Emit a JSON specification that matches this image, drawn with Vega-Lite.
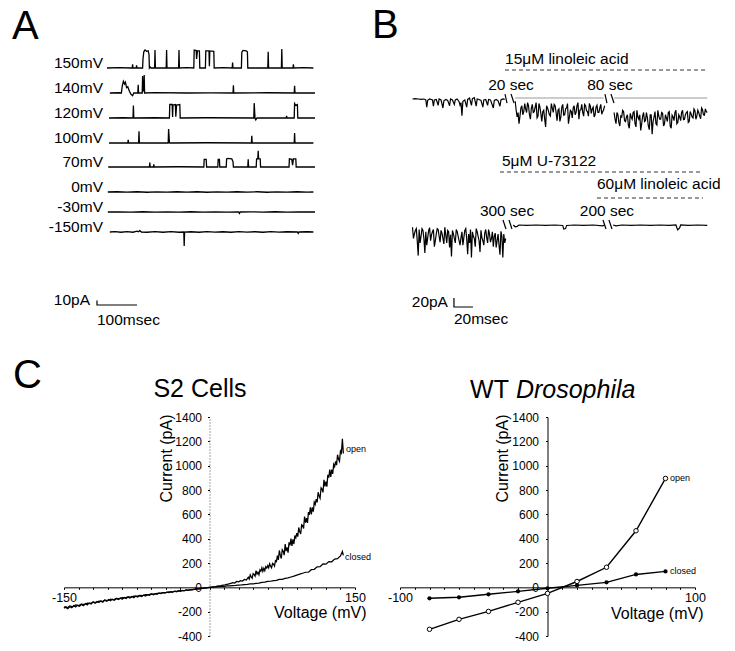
{
"$schema": "https://vega.github.io/schema/vega-lite/v6.json",
"padding": {"left": 12, "top": 5, "right": 5, "bottom": 5},
"background": "white",
"config": {"view": {"stroke": null}, "font": "Liberation Sans", "axis": {"domainColor": "#000", "tickColor": "#000", "labelColor": "#000", "titleColor": "#000", "grid": false, "labelFont": "Liberation Sans", "titleFont": "Liberation Sans"}},
"datasets": {
"aTr": [
{"row":0,"t":0,"i":0},{"row":0,"t":30,"i":0.8},{"row":0,"t":60,"i":0},{"row":0,"t":63,"i":0},{"row":0,"t":64,"i":8},{"row":0,"t":65,"i":0},{"row":0,"t":73,"i":0},{"row":0,"t":74,"i":6},{"row":0,"t":75,"i":0},{"row":0,"t":89,"i":0},{"row":0,"t":90,"i":20},{"row":0,"t":92,"i":36},{"row":0,"t":95,"i":40},{"row":0,"t":99,"i":37},{"row":0,"t":103,"i":38},{"row":0,"t":105,"i":30},{"row":0,"t":106,"i":0},{"row":0,"t":108,"i":2},{"row":0,"t":110,"i":0},{"row":0,"t":119,"i":0},{"row":0,"t":120,"i":40},{"row":0,"t":121,"i":0},{"row":0,"t":148,"i":0},{"row":0,"t":149,"i":40},{"row":0,"t":150,"i":0},{"row":0,"t":179,"i":0},{"row":0,"t":180,"i":40},{"row":0,"t":181,"i":0},{"row":0,"t":200,"i":1},{"row":0,"t":217,"i":0},{"row":0,"t":218,"i":40},{"row":0,"t":223,"i":39},{"row":0,"t":224,"i":20},{"row":0,"t":226,"i":38},{"row":0,"t":231,"i":38},{"row":0,"t":232,"i":0},{"row":0,"t":246,"i":0},{"row":0,"t":247,"i":38},{"row":0,"t":255,"i":38},{"row":0,"t":256,"i":4},{"row":0,"t":257,"i":38},{"row":0,"t":267,"i":37},{"row":0,"t":268,"i":0},{"row":0,"t":290,"i":1},{"row":0,"t":313,"i":0},{"row":0,"t":314,"i":12},{"row":0,"t":315,"i":0},{"row":0,"t":336,"i":0},{"row":0,"t":337,"i":35},{"row":0,"t":340,"i":39},{"row":0,"t":348,"i":38},{"row":0,"t":351,"i":36},{"row":0,"t":352,"i":0},{"row":0,"t":402,"i":0},{"row":0,"t":403,"i":36},{"row":0,"t":404,"i":0},{"row":0,"t":436,"i":0},{"row":0,"t":437,"i":42},{"row":0,"t":438,"i":0},{"row":0,"t":465,"i":0},{"row":0,"t":466,"i":8},{"row":0,"t":467,"i":0},{"row":0,"t":490,"i":0.8},{"row":0,"t":516,"i":0},
{"row":1,"t":7,"i":0},{"row":1,"t":30,"i":0.5},{"row":1,"t":36,"i":0},{"row":1,"t":38,"i":15},{"row":1,"t":41,"i":26},{"row":1,"t":44,"i":20},{"row":1,"t":46,"i":24},{"row":1,"t":49,"i":12},{"row":1,"t":52,"i":14},{"row":1,"t":56,"i":4},{"row":1,"t":60,"i":-3},{"row":1,"t":64,"i":-6},{"row":1,"t":67,"i":0},{"row":1,"t":77,"i":0},{"row":1,"t":78,"i":18},{"row":1,"t":79,"i":0},{"row":1,"t":88,"i":0},{"row":1,"t":89,"i":38},{"row":1,"t":90,"i":4},{"row":1,"t":92,"i":6},{"row":1,"t":93,"i":40},{"row":1,"t":94,"i":0},{"row":1,"t":120,"i":0.8},{"row":1,"t":200,"i":0},{"row":1,"t":260,"i":0.5},{"row":1,"t":315,"i":0},{"row":1,"t":316,"i":17},{"row":1,"t":317,"i":0},{"row":1,"t":400,"i":0.6},{"row":1,"t":468,"i":0},{"row":1,"t":469,"i":16},{"row":1,"t":470,"i":0},{"row":1,"t":520,"i":0},
{"row":2,"t":5,"i":0},{"row":2,"t":40,"i":0.5},{"row":2,"t":65,"i":0},{"row":2,"t":66,"i":28},{"row":2,"t":67,"i":0},{"row":2,"t":120,"i":0.6},{"row":2,"t":156,"i":0},{"row":2,"t":157,"i":30},{"row":2,"t":163,"i":30},{"row":2,"t":164,"i":2},{"row":2,"t":165,"i":29},{"row":2,"t":171,"i":30},{"row":2,"t":172,"i":3},{"row":2,"t":174,"i":29},{"row":2,"t":182,"i":30},{"row":2,"t":183,"i":0},{"row":2,"t":250,"i":0.6},{"row":2,"t":367,"i":0},{"row":2,"t":368,"i":33},{"row":2,"t":370,"i":0},{"row":2,"t":372,"i":-4},{"row":2,"t":375,"i":0},{"row":2,"t":448,"i":0},{"row":2,"t":449,"i":5},{"row":2,"t":450,"i":0},{"row":2,"t":468,"i":0},{"row":2,"t":469,"i":32},{"row":2,"t":472,"i":28},{"row":2,"t":476,"i":30},{"row":2,"t":477,"i":0},{"row":2,"t":520,"i":0},
{"row":3,"t":5,"i":0},{"row":3,"t":52,"i":0},{"row":3,"t":53,"i":7},{"row":3,"t":54,"i":0},{"row":3,"t":79,"i":0},{"row":3,"t":80,"i":26},{"row":3,"t":81,"i":0},{"row":3,"t":153,"i":0},{"row":3,"t":154,"i":31},{"row":3,"t":156,"i":2},{"row":3,"t":157,"i":0},{"row":3,"t":250,"i":0.6},{"row":3,"t":361,"i":0},{"row":3,"t":362,"i":16},{"row":3,"t":363,"i":0},{"row":3,"t":468,"i":0},{"row":3,"t":469,"i":22},{"row":3,"t":470,"i":0},{"row":3,"t":516,"i":0},
{"row":4,"t":3,"i":0},{"row":4,"t":106,"i":0},{"row":4,"t":107,"i":10},{"row":4,"t":108,"i":0},{"row":4,"t":116,"i":0},{"row":4,"t":117,"i":6},{"row":4,"t":118,"i":0},{"row":4,"t":180,"i":0.6},{"row":4,"t":242,"i":0},{"row":4,"t":243,"i":17},{"row":4,"t":248,"i":17},{"row":4,"t":249,"i":0},{"row":4,"t":277,"i":0},{"row":4,"t":278,"i":17},{"row":4,"t":281,"i":17},{"row":4,"t":282,"i":0},{"row":4,"t":298,"i":0},{"row":4,"t":299,"i":18},{"row":4,"t":302,"i":19},{"row":4,"t":312,"i":18},{"row":4,"t":315,"i":12},{"row":4,"t":316,"i":0},{"row":4,"t":352,"i":0},{"row":4,"t":353,"i":17},{"row":4,"t":354,"i":0},{"row":4,"t":373,"i":0},{"row":4,"t":374,"i":18},{"row":4,"t":377,"i":18},{"row":4,"t":378,"i":36},{"row":4,"t":379,"i":18},{"row":4,"t":383,"i":18},{"row":4,"t":384,"i":0},{"row":4,"t":455,"i":0},{"row":4,"t":456,"i":18},{"row":4,"t":462,"i":17},{"row":4,"t":464,"i":4},{"row":4,"t":466,"i":18},{"row":4,"t":472,"i":18},{"row":4,"t":473,"i":0},{"row":4,"t":520,"i":0},
{"row":5,"t":2,"i":0},{"row":5,"t":25,"i":0.6},{"row":5,"t":50,"i":-0.4},{"row":5,"t":75,"i":0.5},{"row":5,"t":100,"i":-0.5},{"row":5,"t":125,"i":0.4},{"row":5,"t":150,"i":-0.3},{"row":5,"t":175,"i":0.6},{"row":5,"t":200,"i":-0.4},{"row":5,"t":225,"i":0.5},{"row":5,"t":250,"i":-0.5},{"row":5,"t":275,"i":0.4},{"row":5,"t":300,"i":-0.4},{"row":5,"t":325,"i":0.6},{"row":5,"t":350,"i":-0.3},{"row":5,"t":375,"i":0.5},{"row":5,"t":400,"i":-0.5},{"row":5,"t":425,"i":0.4},{"row":5,"t":450,"i":-0.4},{"row":5,"t":475,"i":0.6},{"row":5,"t":500,"i":-0.3},{"row":5,"t":516,"i":0},
{"row":6,"t":2,"i":0},{"row":6,"t":30,"i":0.4},{"row":6,"t":60,"i":-0.4},{"row":6,"t":90,"i":0.5},{"row":6,"t":120,"i":-0.3},{"row":6,"t":150,"i":0.4},{"row":6,"t":180,"i":-0.4},{"row":6,"t":210,"i":0.5},{"row":6,"t":240,"i":-0.3},{"row":6,"t":270,"i":0.4},{"row":6,"t":300,"i":-0.4},{"row":6,"t":329,"i":0},{"row":6,"t":331,"i":-3},{"row":6,"t":333,"i":0},{"row":6,"t":360,"i":0.4},{"row":6,"t":390,"i":-0.3},{"row":6,"t":420,"i":0.5},{"row":6,"t":450,"i":-0.4},{"row":6,"t":480,"i":0.4},{"row":6,"t":520,"i":0},
{"row":7,"t":7,"i":0},{"row":7,"t":20,"i":0.8},{"row":7,"t":35,"i":-0.5},{"row":7,"t":50,"i":1},{"row":7,"t":65,"i":-0.5},{"row":7,"t":75,"i":2},{"row":7,"t":78,"i":0.5},{"row":7,"t":82,"i":3},{"row":7,"t":86,"i":0},{"row":7,"t":100,"i":-0.6},{"row":7,"t":120,"i":0.8},{"row":7,"t":140,"i":-0.5},{"row":7,"t":160,"i":0.7},{"row":7,"t":180,"i":-0.6},{"row":7,"t":192,"i":0},{"row":7,"t":193,"i":-31},{"row":7,"t":194,"i":0},{"row":7,"t":210,"i":0.6},{"row":7,"t":230,"i":-0.5},{"row":7,"t":250,"i":0.8},{"row":7,"t":270,"i":-0.4},{"row":7,"t":290,"i":0.6},{"row":7,"t":310,"i":-0.5},{"row":7,"t":330,"i":0.7},{"row":7,"t":350,"i":-0.4},{"row":7,"t":370,"i":0.6},{"row":7,"t":390,"i":-0.5},{"row":7,"t":410,"i":0.7},{"row":7,"t":430,"i":-0.4},{"row":7,"t":450,"i":0.5},{"row":7,"t":476,"i":0},{"row":7,"t":478,"i":-3},{"row":7,"t":480,"i":0},{"row":7,"t":500,"i":0.5},{"row":7,"t":516,"i":0}
],
"aLab": [
{"row":0,"t":-10,"i":0,"label":"150mV"},{"row":1,"t":-10,"i":0,"label":"140mV"},{"row":2,"t":-10,"i":0,"label":"120mV"},{"row":3,"t":-10,"i":0,"label":"100mV"},{"row":4,"t":-10,"i":0,"label":"70mV"},{"row":5,"t":-10,"i":0,"label":"0mV"},{"row":6,"t":-10,"i":0,"label":"-30mV"},{"row":7,"t":-10,"i":0,"label":"-150mV"},{"row":8,"t":-42.5,"i":0,"label":"10pA"}
],
"aBar": [{"row":8,"t":-25,"i":10,"k":0},{"row":8,"t":-25,"i":0,"k":1},{"row":8,"t":75,"i":0,"k":2}],
"bTr": [
{"seg":"r0a","row":0,"t":0,"i":0},{"seg":"r0a","row":0,"t":3,"i":1},{"seg":"r0a","row":0,"t":6,"i":0},{"seg":"r0a","row":0,"t":9,"i":-1},{"seg":"r0a","row":0,"t":12,"i":0},{"seg":"r0a","row":0,"t":14,"i":-2},{"seg":"r0a","row":0,"t":15,"i":-18},{"seg":"r0a","row":0,"t":16,"i":-3},{"seg":"r0a","row":0,"t":18,"i":0},{"seg":"r0a","row":0,"t":21,"i":-2},{"seg":"r0a","row":0,"t":22,"i":-16},{"seg":"r0a","row":0,"t":23,"i":-2},{"seg":"r0a","row":0,"t":25,"i":-1},{"seg":"r0a","row":0,"t":27,"i":-14},{"seg":"r0a","row":0,"t":28,"i":0},{"seg":"r0a","row":0,"t":30,"i":-2},{"seg":"r0a","row":0,"t":32,"i":-20},{"seg":"r0a","row":0,"t":33,"i":-4},{"seg":"r0a","row":0,"t":35,"i":-1},{"seg":"r0a","row":0,"t":37,"i":-3},{"seg":"r0a","row":0,"t":39,"i":-15},{"seg":"r0a","row":0,"t":40,"i":0},{"seg":"r0a","row":0,"t":42,"i":-2},{"seg":"r0a","row":0,"t":44,"i":-12},{"seg":"r0a","row":0,"t":45,"i":-2},{"seg":"r0a","row":0,"t":47,"i":0},{"seg":"r0a","row":0,"t":49,"i":-6},{"seg":"r0a","row":0,"t":50,"i":-14},{"seg":"r0a","row":0,"t":51,"i":-8},{"seg":"r0a","row":0,"t":52,"i":-37},{"seg":"r0a","row":0,"t":53,"i":-5},{"seg":"r0a","row":0,"t":55,"i":-2},{"seg":"r0a","row":0,"t":57,"i":-18},{"seg":"r0a","row":0,"t":58,"i":-1},{"seg":"r0a","row":0,"t":60,"i":2},{"seg":"r0a","row":0,"t":62,"i":-14},{"seg":"r0a","row":0,"t":63,"i":1},{"seg":"r0a","row":0,"t":65,"i":3},{"seg":"r0a","row":0,"t":67,"i":-16},{"seg":"r0a","row":0,"t":68,"i":0},{"seg":"r0a","row":0,"t":70,"i":-1},{"seg":"r0a","row":0,"t":72,"i":-3},{"seg":"r0a","row":0,"t":74,"i":-18},{"seg":"r0a","row":0,"t":75,"i":-2},{"seg":"r0a","row":0,"t":77,"i":-1},{"seg":"r0a","row":0,"t":79,"i":-14},{"seg":"r0a","row":0,"t":80,"i":-1},{"seg":"r0a","row":0,"t":82,"i":-2},{"seg":"r0a","row":0,"t":85,"i":-20},{"seg":"r0a","row":0,"t":86,"i":-3},{"seg":"r0a","row":0,"t":88,"i":-1},{"seg":"r0a","row":0,"t":90,"i":-4},{"seg":"r0a","row":0,"t":92,"i":-16},{"seg":"r0a","row":0,"t":93,"i":-2},{"seg":"r0a","row":0,"t":95,"i":0},{"seg":"r0a","row":0,"t":97,"i":-1},
{"seg":"r0b","row":0,"t":108,"i":-5},{"seg":"r0b","row":0,"t":110,"i":-40},{"seg":"r0b","row":0,"t":112,"i":-55},{"seg":"r0b","row":0,"t":114,"i":-20},{"seg":"r0b","row":0,"t":116,"i":-35},{"seg":"r0b","row":0,"t":118,"i":-10},{"seg":"r0b","row":0,"t":120,"i":-30},{"seg":"r0b","row":0,"t":122,"i":-15},{"seg":"r0b","row":0,"t":124,"i":-45},{"seg":"r0b","row":0,"t":126,"i":-12},{"seg":"r0b","row":0,"t":128,"i":-28},{"seg":"r0b","row":0,"t":130,"i":-8},{"seg":"r0b","row":0,"t":132,"i":-38},{"seg":"r0b","row":0,"t":134,"i":-18},{"seg":"r0b","row":0,"t":136,"i":-50},{"seg":"r0b","row":0,"t":138,"i":-25},{"seg":"r0b","row":0,"t":140,"i":-62},{"seg":"r0b","row":0,"t":142,"i":-20},{"seg":"r0b","row":0,"t":144,"i":-35},{"seg":"r0b","row":0,"t":146,"i":-10},{"seg":"r0b","row":0,"t":148,"i":-30},{"seg":"r0b","row":0,"t":150,"i":-15},{"seg":"r0b","row":0,"t":152,"i":-48},{"seg":"r0b","row":0,"t":154,"i":-22},{"seg":"r0b","row":0,"t":156,"i":-40},{"seg":"r0b","row":0,"t":158,"i":-12},{"seg":"r0b","row":0,"t":160,"i":-35},{"seg":"r0b","row":0,"t":162,"i":-20},{"seg":"r0b","row":0,"t":164,"i":-55},{"seg":"r0b","row":0,"t":166,"i":-25},{"seg":"r0b","row":0,"t":168,"i":-42},{"seg":"r0b","row":0,"t":170,"i":-15},{"seg":"r0b","row":0,"t":172,"i":-30},{"seg":"r0b","row":0,"t":174,"i":-8},{"seg":"r0b","row":0,"t":176,"i":-25},{"seg":"r0b","row":0,"t":178,"i":-12},{"seg":"r0b","row":0,"t":180,"i":-38},{"seg":"r0b","row":0,"t":182,"i":-15},{"seg":"r0b","row":0,"t":184,"i":-28},{"seg":"r0b","row":0,"t":186,"i":-10},{"seg":"r0b","row":0,"t":188,"i":-32},{"seg":"r0b","row":0,"t":190,"i":-18},{"seg":"r0b","row":0,"t":192,"i":-35},{"seg":"r0b","row":0,"t":194,"i":-14},{"seg":"r0b","row":0,"t":196,"i":-30},{"seg":"r0b","row":0,"t":198,"i":-12},{"seg":"r0b","row":0,"t":200,"i":-28},{"seg":"r0b","row":0,"t":202,"i":-15},
{"seg":"r0b","row":0,"t":109,"i":-25},{"seg":"r0b","row":0,"t":111,"i":-30},{"seg":"r0b","row":0,"t":113,"i":-38},{"seg":"r0b","row":0,"t":115,"i":-15},{"seg":"r0b","row":0,"t":117,"i":-28},{"seg":"r0b","row":0,"t":119,"i":-22},{"seg":"r0b","row":0,"t":121,"i":-8},{"seg":"r0b","row":0,"t":123,"i":-35},{"seg":"r0b","row":0,"t":125,"i":-20},{"seg":"r0b","row":0,"t":127,"i":-30},{"seg":"r0b","row":0,"t":129,"i":-18},{"seg":"r0b","row":0,"t":131,"i":-42},{"seg":"r0b","row":0,"t":133,"i":-10},{"seg":"r0b","row":0,"t":135,"i":-33},{"seg":"r0b","row":0,"t":137,"i":-28},{"seg":"r0b","row":0,"t":139,"i":-45},{"seg":"r0b","row":0,"t":141,"i":-15},{"seg":"r0b","row":0,"t":143,"i":-27},{"seg":"r0b","row":0,"t":145,"i":-38},{"seg":"r0b","row":0,"t":147,"i":-20},{"seg":"r0b","row":0,"t":149,"i":-12},{"seg":"r0b","row":0,"t":151,"i":-30},{"seg":"r0b","row":0,"t":153,"i":-25},{"seg":"r0b","row":0,"t":155,"i":-50},{"seg":"r0b","row":0,"t":157,"i":-18},{"seg":"r0b","row":0,"t":159,"i":-36},{"seg":"r0b","row":0,"t":161,"i":-22},{"seg":"r0b","row":0,"t":163,"i":-10},{"seg":"r0b","row":0,"t":165,"i":-40},{"seg":"r0b","row":0,"t":167,"i":-28},{"seg":"r0b","row":0,"t":169,"i":-20},{"seg":"r0b","row":0,"t":171,"i":-35},{"seg":"r0b","row":0,"t":173,"i":-15},{"seg":"r0b","row":0,"t":175,"i":-45},{"seg":"r0b","row":0,"t":177,"i":-24},{"seg":"r0b","row":0,"t":179,"i":-30},{"seg":"r0b","row":0,"t":181,"i":-12},{"seg":"r0b","row":0,"t":183,"i":-26},{"seg":"r0b","row":0,"t":185,"i":-38},{"seg":"r0b","row":0,"t":187,"i":-16},{"seg":"r0b","row":0,"t":189,"i":-22},{"seg":"r0b","row":0,"t":191,"i":-40},{"seg":"r0b","row":0,"t":193,"i":-18},{"seg":"r0b","row":0,"t":195,"i":-30},{"seg":"r0b","row":0,"t":197,"i":-20},{"seg":"r0b","row":0,"t":199,"i":-34},{"seg":"r0b","row":0,"t":201,"i":-24},
{"seg":"r0c","row":0,"t":212,"i":-30},{"seg":"r0c","row":0,"t":214,"i":-55},{"seg":"r0c","row":0,"t":216,"i":-35},{"seg":"r0c","row":0,"t":218,"i":-60},{"seg":"r0c","row":0,"t":220,"i":-40},{"seg":"r0c","row":0,"t":222,"i":-28},{"seg":"r0c","row":0,"t":224,"i":-50},{"seg":"r0c","row":0,"t":226,"i":-35},{"seg":"r0c","row":0,"t":228,"i":-65},{"seg":"r0c","row":0,"t":230,"i":-40},{"seg":"r0c","row":0,"t":232,"i":-30},{"seg":"r0c","row":0,"t":234,"i":-55},{"seg":"r0c","row":0,"t":236,"i":-25},{"seg":"r0c","row":0,"t":238,"i":-45},{"seg":"r0c","row":0,"t":240,"i":-70},{"seg":"r0c","row":0,"t":242,"i":-38},{"seg":"r0c","row":0,"t":244,"i":-50},{"seg":"r0c","row":0,"t":246,"i":-30},{"seg":"r0c","row":0,"t":248,"i":-60},{"seg":"r0c","row":0,"t":250,"i":-35},{"seg":"r0c","row":0,"t":252,"i":-78},{"seg":"r0c","row":0,"t":254,"i":-40},{"seg":"r0c","row":0,"t":256,"i":-55},{"seg":"r0c","row":0,"t":258,"i":-25},{"seg":"r0c","row":0,"t":260,"i":-45},{"seg":"r0c","row":0,"t":262,"i":-30},{"seg":"r0c","row":0,"t":264,"i":-60},{"seg":"r0c","row":0,"t":266,"i":-35},{"seg":"r0c","row":0,"t":268,"i":-50},{"seg":"r0c","row":0,"t":270,"i":-28},{"seg":"r0c","row":0,"t":272,"i":-65},{"seg":"r0c","row":0,"t":274,"i":-40},{"seg":"r0c","row":0,"t":276,"i":-30},{"seg":"r0c","row":0,"t":278,"i":-55},{"seg":"r0c","row":0,"t":280,"i":-35},{"seg":"r0c","row":0,"t":282,"i":-48},{"seg":"r0c","row":0,"t":284,"i":-25},{"seg":"r0c","row":0,"t":286,"i":-45},{"seg":"r0c","row":0,"t":288,"i":-30},{"seg":"r0c","row":0,"t":290,"i":-52},{"seg":"r0c","row":0,"t":292,"i":-28},{"seg":"r0c","row":0,"t":294,"i":-40},{"seg":"r0c","row":0,"t":296,"i":-22},{"seg":"r0c","row":0,"t":298,"i":-45},{"seg":"r0c","row":0,"t":300,"i":-25},{"seg":"r0c","row":0,"t":302,"i":-38},{"seg":"r0c","row":0,"t":304,"i":-20},{"seg":"r0c","row":0,"t":306,"i":-35},{"seg":"r0c","row":0,"t":308,"i":-22},{"seg":"r0c","row":0,"t":310,"i":-30},
{"seg":"r0c","row":0,"t":213,"i":-45},{"seg":"r0c","row":0,"t":215,"i":-30},{"seg":"r0c","row":0,"t":217,"i":-52},{"seg":"r0c","row":0,"t":219,"i":-38},{"seg":"r0c","row":0,"t":221,"i":-25},{"seg":"r0c","row":0,"t":223,"i":-48},{"seg":"r0c","row":0,"t":225,"i":-40},{"seg":"r0c","row":0,"t":227,"i":-58},{"seg":"r0c","row":0,"t":229,"i":-32},{"seg":"r0c","row":0,"t":231,"i":-45},{"seg":"r0c","row":0,"t":233,"i":-28},{"seg":"r0c","row":0,"t":235,"i":-62},{"seg":"r0c","row":0,"t":237,"i":-40},{"seg":"r0c","row":0,"t":239,"i":-35},{"seg":"r0c","row":0,"t":241,"i":-55},{"seg":"r0c","row":0,"t":243,"i":-30},{"seg":"r0c","row":0,"t":245,"i":-48},{"seg":"r0c","row":0,"t":247,"i":-42},{"seg":"r0c","row":0,"t":249,"i":-68},{"seg":"r0c","row":0,"t":251,"i":-35},{"seg":"r0c","row":0,"t":253,"i":-50},{"seg":"r0c","row":0,"t":255,"i":-28},{"seg":"r0c","row":0,"t":257,"i":-58},{"seg":"r0c","row":0,"t":259,"i":-38},{"seg":"r0c","row":0,"t":261,"i":-45},{"seg":"r0c","row":0,"t":263,"i":-32},{"seg":"r0c","row":0,"t":265,"i":-55},{"seg":"r0c","row":0,"t":267,"i":-42},{"seg":"r0c","row":0,"t":269,"i":-30},{"seg":"r0c","row":0,"t":271,"i":-60},{"seg":"r0c","row":0,"t":273,"i":-36},{"seg":"r0c","row":0,"t":275,"i":-48},{"seg":"r0c","row":0,"t":277,"i":-25},{"seg":"r0c","row":0,"t":279,"i":-52},{"seg":"r0c","row":0,"t":281,"i":-40},{"seg":"r0c","row":0,"t":283,"i":-30},{"seg":"r0c","row":0,"t":285,"i":-46},{"seg":"r0c","row":0,"t":287,"i":-35},{"seg":"r0c","row":0,"t":289,"i":-28},{"seg":"r0c","row":0,"t":291,"i":-50},{"seg":"r0c","row":0,"t":293,"i":-33},{"seg":"r0c","row":0,"t":295,"i":-42},{"seg":"r0c","row":0,"t":297,"i":-26},{"seg":"r0c","row":0,"t":299,"i":-38},{"seg":"r0c","row":0,"t":301,"i":-30},{"seg":"r0c","row":0,"t":303,"i":-44},{"seg":"r0c","row":0,"t":305,"i":-24},{"seg":"r0c","row":0,"t":307,"i":-36},{"seg":"r0c","row":0,"t":309,"i":-28},
{"seg":"r1a","row":1,"t":0,"i":-5},{"seg":"r1a","row":1,"t":2,"i":-20},{"seg":"r1a","row":1,"t":4,"i":-8},{"seg":"r1a","row":1,"t":6,"i":-68},{"seg":"r1a","row":1,"t":7,"i":-10},{"seg":"r1a","row":1,"t":9,"i":-25},{"seg":"r1a","row":1,"t":11,"i":-12},{"seg":"r1a","row":1,"t":13,"i":-62},{"seg":"r1a","row":1,"t":14,"i":-15},{"seg":"r1a","row":1,"t":16,"i":-28},{"seg":"r1a","row":1,"t":18,"i":-6},{"seg":"r1a","row":1,"t":20,"i":-22},{"seg":"r1a","row":1,"t":22,"i":-10},{"seg":"r1a","row":1,"t":24,"i":-35},{"seg":"r1a","row":1,"t":26,"i":-8},{"seg":"r1a","row":1,"t":28,"i":-25},{"seg":"r1a","row":1,"t":30,"i":-12},{"seg":"r1a","row":1,"t":32,"i":-30},{"seg":"r1a","row":1,"t":34,"i":-5},{"seg":"r1a","row":1,"t":36,"i":-40},{"seg":"r1a","row":1,"t":38,"i":-15},{"seg":"r1a","row":1,"t":40,"i":-22},{"seg":"r1a","row":1,"t":41,"i":-70},{"seg":"r1a","row":1,"t":42,"i":-12},{"seg":"r1a","row":1,"t":44,"i":-30},{"seg":"r1a","row":1,"t":46,"i":-10},{"seg":"r1a","row":1,"t":48,"i":-25},{"seg":"r1a","row":1,"t":50,"i":-45},{"seg":"r1a","row":1,"t":52,"i":-15},{"seg":"r1a","row":1,"t":54,"i":-28},{"seg":"r1a","row":1,"t":56,"i":-8},{"seg":"r1a","row":1,"t":58,"i":-65},{"seg":"r1a","row":1,"t":59,"i":-20},{"seg":"r1a","row":1,"t":61,"i":-10},{"seg":"r1a","row":1,"t":62,"i":-72},{"seg":"r1a","row":1,"t":63,"i":-15},{"seg":"r1a","row":1,"t":65,"i":-30},{"seg":"r1a","row":1,"t":67,"i":-8},{"seg":"r1a","row":1,"t":69,"i":-25},{"seg":"r1a","row":1,"t":71,"i":-60},{"seg":"r1a","row":1,"t":72,"i":-12},{"seg":"r1a","row":1,"t":74,"i":-35},{"seg":"r1a","row":1,"t":76,"i":-18},{"seg":"r1a","row":1,"t":78,"i":-28},{"seg":"r1a","row":1,"t":80,"i":-10},{"seg":"r1a","row":1,"t":82,"i":-38},{"seg":"r1a","row":1,"t":84,"i":-15},{"seg":"r1a","row":1,"t":86,"i":-25},{"seg":"r1a","row":1,"t":88,"i":-50},{"seg":"r1a","row":1,"t":90,"i":-20},{"seg":"r1a","row":1,"t":92,"i":-66},{"seg":"r1a","row":1,"t":93,"i":-14},{"seg":"r1a","row":1,"t":95,"i":-72},{"seg":"r1a","row":1,"t":96,"i":-20},{"seg":"r1a","row":1,"t":98,"i":-30},
{"seg":"r1a","row":1,"t":1,"i":-30},{"seg":"r1a","row":1,"t":3,"i":-12},{"seg":"r1a","row":1,"t":5,"i":-35},{"seg":"r1a","row":1,"t":8,"i":-40},{"seg":"r1a","row":1,"t":10,"i":-8},{"seg":"r1a","row":1,"t":12,"i":-30},{"seg":"r1a","row":1,"t":15,"i":-45},{"seg":"r1a","row":1,"t":17,"i":-12},{"seg":"r1a","row":1,"t":19,"i":-35},{"seg":"r1a","row":1,"t":21,"i":-15},{"seg":"r1a","row":1,"t":23,"i":-48},{"seg":"r1a","row":1,"t":25,"i":-20},{"seg":"r1a","row":1,"t":27,"i":-10},{"seg":"r1a","row":1,"t":29,"i":-38},{"seg":"r1a","row":1,"t":31,"i":-18},{"seg":"r1a","row":1,"t":33,"i":-42},{"seg":"r1a","row":1,"t":35,"i":-22},{"seg":"r1a","row":1,"t":37,"i":-12},{"seg":"r1a","row":1,"t":39,"i":-50},{"seg":"r1a","row":1,"t":43,"i":-20},{"seg":"r1a","row":1,"t":45,"i":-40},{"seg":"r1a","row":1,"t":47,"i":-15},{"seg":"r1a","row":1,"t":49,"i":-35},{"seg":"r1a","row":1,"t":51,"i":-28},{"seg":"r1a","row":1,"t":53,"i":-45},{"seg":"r1a","row":1,"t":55,"i":-12},{"seg":"r1a","row":1,"t":57,"i":-30},{"seg":"r1a","row":1,"t":60,"i":-40},{"seg":"r1a","row":1,"t":64,"i":-25},{"seg":"r1a","row":1,"t":66,"i":-48},{"seg":"r1a","row":1,"t":68,"i":-15},{"seg":"r1a","row":1,"t":70,"i":-35},{"seg":"r1a","row":1,"t":73,"i":-28},{"seg":"r1a","row":1,"t":75,"i":-45},{"seg":"r1a","row":1,"t":77,"i":-10},{"seg":"r1a","row":1,"t":79,"i":-40},{"seg":"r1a","row":1,"t":81,"i":-20},{"seg":"r1a","row":1,"t":83,"i":-30},{"seg":"r1a","row":1,"t":85,"i":-48},{"seg":"r1a","row":1,"t":87,"i":-18},{"seg":"r1a","row":1,"t":89,"i":-35},{"seg":"r1a","row":1,"t":91,"i":-45},{"seg":"r1a","row":1,"t":94,"i":-25},{"seg":"r1a","row":1,"t":97,"i":-40},
{"seg":"r1b","row":1,"t":106,"i":0},{"seg":"r1b","row":1,"t":108,"i":-4},{"seg":"r1b","row":1,"t":110,"i":-3},{"seg":"r1b","row":1,"t":112,"i":0},{"seg":"r1b","row":1,"t":120,"i":-1},{"seg":"r1b","row":1,"t":130,"i":0},{"seg":"r1b","row":1,"t":140,"i":-1},{"seg":"r1b","row":1,"t":150,"i":0},{"seg":"r1b","row":1,"t":158,"i":-1},{"seg":"r1b","row":1,"t":159,"i":-9},{"seg":"r1b","row":1,"t":161,"i":-8},{"seg":"r1b","row":1,"t":162,"i":-1},{"seg":"r1b","row":1,"t":170,"i":0},{"seg":"r1b","row":1,"t":180,"i":-1},{"seg":"r1b","row":1,"t":190,"i":0},{"seg":"r1b","row":1,"t":200,"i":-2},{"seg":"r1b","row":1,"t":202,"i":0},
{"seg":"r1c","row":1,"t":211,"i":0},{"seg":"r1c","row":1,"t":214,"i":-2},{"seg":"r1c","row":1,"t":220,"i":0},{"seg":"r1c","row":1,"t":230,"i":-1},{"seg":"r1c","row":1,"t":240,"i":0},{"seg":"r1c","row":1,"t":250,"i":-1},{"seg":"r1c","row":1,"t":260,"i":0},{"seg":"r1c","row":1,"t":270,"i":-1},{"seg":"r1c","row":1,"t":277,"i":0},{"seg":"r1c","row":1,"t":278,"i":-6},{"seg":"r1c","row":1,"t":279,"i":-11},{"seg":"r1c","row":1,"t":281,"i":-6},{"seg":"r1c","row":1,"t":282,"i":0},{"seg":"r1c","row":1,"t":290,"i":-1},{"seg":"r1c","row":1,"t":300,"i":0},{"seg":"r1c","row":1,"t":310,"i":-1},
{"seg":"x1","row":0,"t":97.3,"i":11},{"seg":"x1","row":0,"t":99.4,"i":-9},
{"seg":"x2","row":0,"t":103.6,"i":11},{"seg":"x2","row":0,"t":106.8,"i":-9},
{"seg":"x3","row":0,"t":202.4,"i":11},{"seg":"x3","row":0,"t":204.5,"i":-9},
{"seg":"x4","row":0,"t":208.7,"i":11},{"seg":"x4","row":0,"t":211.9,"i":-9},
{"seg":"x5","row":1,"t":95.2,"i":11},{"seg":"x5","row":1,"t":98.3,"i":-9},
{"seg":"x6","row":1,"t":101.5,"i":11},{"seg":"x6","row":1,"t":104.6,"i":-9},
{"seg":"x7","row":1,"t":200.3,"i":11},{"seg":"x7","row":1,"t":203.5,"i":-9},
{"seg":"x8","row":1,"t":206.6,"i":11},{"seg":"x8","row":1,"t":209.8,"i":-9}
],
"bBar": [{"row":2,"t":43.6,"i":20,"k":0},{"row":2,"t":43.6,"i":0,"k":1},{"row":2,"t":63.6,"i":0,"k":2}],
"bGray": [{"seg":"g1","row":0,"t":108,"i":2.2},{"seg":"g1","row":0,"t":201,"i":2.2},{"seg":"g2","row":0,"t":212,"i":2.2},{"seg":"g2","row":0,"t":310,"i":2.2}],
"bDash": [{"seg":"d1","row":0,"t":97.3,"i":64.4},{"seg":"d1","row":0,"t":309.7,"i":64.4},{"seg":"d2","row":1,"t":92,"i":117.8},{"seg":"d2","row":1,"t":304.4,"i":117.8},{"seg":"d3","row":1,"t":194,"i":60},{"seg":"d3","row":1,"t":305.5,"i":60}],
"bTxtL": [{"row":0,"t":97.3,"i":77.8,"label":"15μM linoleic acid"},{"row":1,"t":94.1,"i":131.1,"label":"5μM U-73122"},{"row":1,"t":194,"i":80,"label":"60μM linoleic acid"},{"row":2,"t":43.6,"i":-37.8,"label":"20msec"}],
"bTxtC": [{"row":0,"t":103.6,"i":20,"label":"20 sec"},{"row":0,"t":207.7,"i":20,"label":"80 sec"},{"row":1,"t":99.4,"i":20,"label":"300 sec"},{"row":1,"t":204.5,"i":20,"label":"200 sec"}],
"bTxtR": [{"row":2,"t":37.3,"i":0,"label":"20pA"}],
"s2": [
{"s":"open","V":-150,"I":-172},{"s":"open","V":-148,"I":-158},{"s":"open","V":-146,"I":-175},{"s":"open","V":-144,"I":-160},{"s":"open","V":-142,"I":-168},{"s":"open","V":-140,"I":-150},{"s":"open","V":-138,"I":-162},{"s":"open","V":-136,"I":-148},{"s":"open","V":-134,"I":-155},{"s":"open","V":-132,"I":-140},{"s":"open","V":-130,"I":-150},{"s":"open","V":-128,"I":-133},{"s":"open","V":-126,"I":-145},{"s":"open","V":-124,"I":-128},{"s":"open","V":-122,"I":-136},{"s":"open","V":-120,"I":-120},{"s":"open","V":-118,"I":-131},{"s":"open","V":-116,"I":-116},{"s":"open","V":-114,"I":-124},{"s":"open","V":-112,"I":-110},{"s":"open","V":-110,"I":-122},{"s":"open","V":-108,"I":-105},{"s":"open","V":-106,"I":-114},{"s":"open","V":-104,"I":-100},{"s":"open","V":-102,"I":-110},{"s":"open","V":-100,"I":-97},{"s":"open","V":-98,"I":-106},{"s":"open","V":-96,"I":-92},{"s":"open","V":-94,"I":-100},{"s":"open","V":-92,"I":-88},{"s":"open","V":-90,"I":-97},{"s":"open","V":-88,"I":-84},{"s":"open","V":-86,"I":-92},{"s":"open","V":-84,"I":-80},{"s":"open","V":-82,"I":-88},{"s":"open","V":-80,"I":-76},{"s":"open","V":-78,"I":-85},{"s":"open","V":-76,"I":-72},{"s":"open","V":-74,"I":-80},{"s":"open","V":-72,"I":-68},{"s":"open","V":-70,"I":-75},{"s":"open","V":-68,"I":-64},{"s":"open","V":-66,"I":-71},{"s":"open","V":-64,"I":-60},{"s":"open","V":-62,"I":-66},{"s":"open","V":-60,"I":-55},{"s":"open","V":-58,"I":-62},{"s":"open","V":-56,"I":-52},{"s":"open","V":-54,"I":-57},{"s":"open","V":-52,"I":-47},{"s":"open","V":-50,"I":-52},{"s":"open","V":-48,"I":-43},{"s":"open","V":-46,"I":-48},{"s":"open","V":-44,"I":-39},{"s":"open","V":-42,"I":-44},{"s":"open","V":-40,"I":-36},{"s":"open","V":-38,"I":-40},{"s":"open","V":-36,"I":-32},{"s":"open","V":-34,"I":-36},{"s":"open","V":-32,"I":-28},{"s":"open","V":-30,"I":-32},{"s":"open","V":-28,"I":-25},{"s":"open","V":-26,"I":-28},{"s":"open","V":-24,"I":-21},{"s":"open","V":-22,"I":-24},{"s":"open","V":-20,"I":-18},{"s":"open","V":-18,"I":-20},{"s":"open","V":-16,"I":-15},{"s":"open","V":-14,"I":-16},{"s":"open","V":-12,"I":-11},{"s":"open","V":-10,"I":-12},{"s":"open","V":-8,"I":-7},{"s":"open","V":-6,"I":-8},{"s":"open","V":-4,"I":-4},{"s":"open","V":-2,"I":-3},{"s":"open","V":0,"I":0},{"s":"open","V":2,"I":2},{"s":"open","V":4,"I":4},{"s":"open","V":6,"I":6},{"s":"open","V":8,"I":9},{"s":"open","V":10,"I":12},{"s":"open","V":12,"I":14},{"s":"open","V":14,"I":18},{"s":"open","V":16,"I":20},{"s":"open","V":18,"I":25},{"s":"open","V":20,"I":28},{"s":"open","V":22,"I":33},{"s":"open","V":24,"I":38},{"s":"open","V":26,"I":35},{"s":"open","V":28,"I":48},{"s":"open","V":30,"I":45},{"s":"open","V":32,"I":55},{"s":"open","V":34,"I":52},{"s":"open","V":36,"I":65},{"s":"open","V":38,"I":60},
{"s":"open","V":40,"I":83},{"s":"open","V":41,"I":68},{"s":"open","V":42,"I":103},{"s":"open","V":43,"I":86},{"s":"open","V":44,"I":75},{"s":"open","V":45,"I":112},{"s":"open","V":46,"I":106},{"s":"open","V":47,"I":92},{"s":"open","V":48,"I":137},{"s":"open","V":49,"I":109},{"s":"open","V":50,"I":124},{"s":"open","V":51,"I":103},{"s":"open","V":52,"I":144},{"s":"open","V":53,"I":133},{"s":"open","V":54,"I":160},{"s":"open","V":55,"I":131},{"s":"open","V":56,"I":156},{"s":"open","V":57,"I":137},{"s":"open","V":58,"I":170},{"s":"open","V":59,"I":159},{"s":"open","V":60,"I":178},{"s":"open","V":61,"I":160},{"s":"open","V":62,"I":193},{"s":"open","V":63,"I":174},{"s":"open","V":64,"I":161},{"s":"open","V":65,"I":197},{"s":"open","V":66,"I":190},{"s":"open","V":67,"I":175},{"s":"open","V":68,"I":219},{"s":"open","V":69,"I":212},{"s":"open","V":70,"I":260},{"s":"open","V":71,"I":226},{"s":"open","V":72,"I":303},{"s":"open","V":73,"I":262},{"s":"open","V":74,"I":237},{"s":"open","V":75,"I":310},{"s":"open","V":76,"I":297},{"s":"open","V":77,"I":264},{"s":"open","V":78,"I":356},{"s":"open","V":79,"I":298},{"s":"open","V":80,"I":328},{"s":"open","V":81,"I":285},{"s":"open","V":82,"I":370},{"s":"open","V":83,"I":345},{"s":"open","V":84,"I":400},{"s":"open","V":85,"I":340},{"s":"open","V":86,"I":394},{"s":"open","V":87,"I":356},{"s":"open","V":88,"I":426},{"s":"open","V":89,"I":406},{"s":"open","V":90,"I":445},{"s":"open","V":91,"I":417},{"s":"open","V":92,"I":492},{"s":"open","V":93,"I":458},{"s":"open","V":94,"I":438},{"s":"open","V":95,"I":515},{"s":"open","V":96,"I":508},{"s":"open","V":97,"I":483},{"s":"open","V":98,"I":582},{"s":"open","V":99,"I":531},{"s":"open","V":100,"I":568},{"s":"open","V":101,"I":529},{"s":"open","V":102,"I":618},{"s":"open","V":103,"I":597},{"s":"open","V":104,"I":658},{"s":"open","V":105,"I":600},{"s":"open","V":106,"I":658},{"s":"open","V":107,"I":622},{"s":"open","V":108,"I":700},{"s":"open","V":109,"I":682},{"s":"open","V":110,"I":725},{"s":"open","V":111,"I":698},{"s":"open","V":112,"I":782},{"s":"open","V":113,"I":750},{"s":"open","V":114,"I":732},{"s":"open","V":115,"I":818},{"s":"open","V":116,"I":808},{"s":"open","V":117,"I":780},{"s":"open","V":118,"I":884},{"s":"open","V":119,"I":830},{"s":"open","V":120,"I":868},{"s":"open","V":121,"I":828},{"s":"open","V":122,"I":924},{"s":"open","V":123,"I":902},{"s":"open","V":124,"I":968},{"s":"open","V":125,"I":908},{"s":"open","V":126,"I":968},{"s":"open","V":127,"I":932},{"s":"open","V":128,"I":1010},{"s":"open","V":129,"I":992},{"s":"open","V":130,"I":1035},{"s":"open","V":131,"I":1004},{"s":"open","V":132,"I":1090},{"s":"open","V":133,"I":1054},{"s":"open","V":134,"I":1036},{"s":"open","V":135,"I":1120},{"s":"open","V":136,"I":1105},{"s":"open","V":137,"I":1220},{"s":"open","V":138,"I":1100},
{"s":"closed","V":-150,"I":-160},{"s":"closed","V":-147,"I":-170},{"s":"closed","V":-144,"I":-152},{"s":"closed","V":-141,"I":-160},{"s":"closed","V":-138,"I":-145},{"s":"closed","V":-135,"I":-150},{"s":"closed","V":-132,"I":-138},{"s":"closed","V":-129,"I":-142},{"s":"closed","V":-126,"I":-130},{"s":"closed","V":-123,"I":-134},{"s":"closed","V":-120,"I":-122},{"s":"closed","V":-117,"I":-126},{"s":"closed","V":-114,"I":-114},{"s":"closed","V":-111,"I":-118},{"s":"closed","V":-108,"I":-106},{"s":"closed","V":-105,"I":-110},{"s":"closed","V":-102,"I":-98},{"s":"closed","V":-99,"I":-102},{"s":"closed","V":-96,"I":-91},{"s":"closed","V":-93,"I":-94},{"s":"closed","V":-90,"I":-84},{"s":"closed","V":-87,"I":-87},{"s":"closed","V":-84,"I":-78},{"s":"closed","V":-81,"I":-80},{"s":"closed","V":-78,"I":-72},{"s":"closed","V":-75,"I":-74},{"s":"closed","V":-72,"I":-66},{"s":"closed","V":-69,"I":-68},{"s":"closed","V":-66,"I":-60},{"s":"closed","V":-63,"I":-62},{"s":"closed","V":-60,"I":-54},{"s":"closed","V":-57,"I":-56},{"s":"closed","V":-54,"I":-49},{"s":"closed","V":-51,"I":-50},{"s":"closed","V":-48,"I":-44},{"s":"closed","V":-45,"I":-44},{"s":"closed","V":-42,"I":-38},{"s":"closed","V":-39,"I":-39},{"s":"closed","V":-36,"I":-33},{"s":"closed","V":-33,"I":-33},{"s":"closed","V":-30,"I":-28},{"s":"closed","V":-27,"I":-28},{"s":"closed","V":-24,"I":-23},{"s":"closed","V":-21,"I":-22},{"s":"closed","V":-18,"I":-18},{"s":"closed","V":-15,"I":-16},{"s":"closed","V":-12,"I":-12},{"s":"closed","V":-9,"I":-10},{"s":"closed","V":-6,"I":-6},{"s":"closed","V":-3,"I":-4},{"s":"closed","V":0,"I":-1},{"s":"closed","V":3,"I":1},{"s":"closed","V":6,"I":3},{"s":"closed","V":9,"I":5},{"s":"closed","V":12,"I":7},{"s":"closed","V":15,"I":8},{"s":"closed","V":18,"I":11},{"s":"closed","V":21,"I":12},{"s":"closed","V":24,"I":15},{"s":"closed","V":27,"I":16},{"s":"closed","V":30,"I":19},{"s":"closed","V":33,"I":20},{"s":"closed","V":36,"I":23},{"s":"closed","V":39,"I":24},{"s":"closed","V":42,"I":28},{"s":"closed","V":45,"I":29},{"s":"closed","V":48,"I":33},{"s":"closed","V":51,"I":35},{"s":"closed","V":54,"I":40},{"s":"closed","V":57,"I":42},{"s":"closed","V":60,"I":48},{"s":"closed","V":63,"I":50},{"s":"closed","V":66,"I":56},{"s":"closed","V":69,"I":58},{"s":"closed","V":72,"I":65},{"s":"closed","V":75,"I":66},{"s":"closed","V":78,"I":74},{"s":"closed","V":81,"I":78},{"s":"closed","V":84,"I":85},{"s":"closed","V":87,"I":92},{"s":"closed","V":90,"I":100},{"s":"closed","V":93,"I":108},{"s":"closed","V":96,"I":116},{"s":"closed","V":99,"I":124},{"s":"closed","V":102,"I":125},{"s":"closed","V":105,"I":145},{"s":"closed","V":108,"I":148},{"s":"closed","V":111,"I":168},{"s":"closed","V":114,"I":170},{"s":"closed","V":117,"I":192},{"s":"closed","V":120,"I":190},{"s":"closed","V":123,"I":212},{"s":"closed","V":126,"I":210},{"s":"closed","V":129,"I":232},{"s":"closed","V":132,"I":235},{"s":"closed","V":135,"I":258},{"s":"closed","V":137,"I":295},{"s":"closed","V":138,"I":262}
],
"wt": [
{"s":"open","V":-80,"I":-345},{"s":"open","V":-60,"I":-263},{"s":"open","V":-40,"I":-198},{"s":"open","V":-20,"I":-123},{"s":"open","V":0,"I":-50},{"s":"open","V":20,"I":48},{"s":"open","V":40,"I":165},{"s":"open","V":60,"I":465},{"s":"open","V":80,"I":895},
{"s":"closed","V":-80,"I":-90},{"s":"closed","V":-60,"I":-82},{"s":"closed","V":-40,"I":-57},{"s":"closed","V":-20,"I":-33},{"s":"closed","V":0,"I":-8},{"s":"closed","V":20,"I":16},{"s":"closed","V":40,"I":41},{"s":"closed","V":60,"I":106},{"s":"closed","V":80,"I":131}
]
},
"columns": 2,
"align": "each",
"bounds": "flush",
"spacing": {"row": 86, "column": 45},
"concat": [
{"width": 251, "height": 290,
 "encoding": {"x": {"field": "t", "type": "quantitative", "scale": {"domain": [-107.5, 520], "nice": false, "zero": false}, "axis": null}},
 "layer": [
  {"encoding": {"y": {"field": "i", "type": "quantitative", "scale": {"domain": [0, 100], "range": [27, -18], "nice": false, "zero": false}, "axis": null}},
   "layer": [
    {"data": {"name": "aTr"}, "transform": [{"filter": "datum.row == 0"}], "mark": {"type": "line", "color": "#000", "strokeWidth": 1.3}},
    {"data": {"name": "aLab"}, "transform": [{"filter": "datum.row == 0"}], "mark": {"type": "text", "align": "right", "baseline": "alphabetic", "fontSize": 15.5, "color": "#000"}, "encoding": {"text": {"field": "label"}}},
    {"data": {"values": [{"t": -237.5, "i": 64.4, "label": "A"}]}, "mark": {"type": "text", "align": "left", "baseline": "alphabetic", "fontSize": 40, "color": "#000"}, "encoding": {"text": {"field": "label"}}}
   ]},
  {"encoding": {"y": {"field": "i", "type": "quantitative", "scale": {"domain": [0, 100], "range": [52, 7], "nice": false, "zero": false}, "axis": null}},
   "layer": [
    {"data": {"name": "aTr"}, "transform": [{"filter": "datum.row == 1"}], "mark": {"type": "line", "color": "#000", "strokeWidth": 1.3}},
    {"data": {"name": "aLab"}, "transform": [{"filter": "datum.row == 1"}], "mark": {"type": "text", "align": "right", "baseline": "alphabetic", "fontSize": 15.5, "color": "#000"}, "encoding": {"text": {"field": "label"}}}
   ]},
  {"encoding": {"y": {"field": "i", "type": "quantitative", "scale": {"domain": [0, 100], "range": [77, 32], "nice": false, "zero": false}, "axis": null}},
   "layer": [
    {"data": {"name": "aTr"}, "transform": [{"filter": "datum.row == 2"}], "mark": {"type": "line", "color": "#000", "strokeWidth": 1.3}},
    {"data": {"name": "aLab"}, "transform": [{"filter": "datum.row == 2"}], "mark": {"type": "text", "align": "right", "baseline": "alphabetic", "fontSize": 15.5, "color": "#000"}, "encoding": {"text": {"field": "label"}}}
   ]},
  {"encoding": {"y": {"field": "i", "type": "quantitative", "scale": {"domain": [0, 100], "range": [102, 57], "nice": false, "zero": false}, "axis": null}},
   "layer": [
    {"data": {"name": "aTr"}, "transform": [{"filter": "datum.row == 3"}], "mark": {"type": "line", "color": "#000", "strokeWidth": 1.3}},
    {"data": {"name": "aLab"}, "transform": [{"filter": "datum.row == 3"}], "mark": {"type": "text", "align": "right", "baseline": "alphabetic", "fontSize": 15.5, "color": "#000"}, "encoding": {"text": {"field": "label"}}}
   ]},
  {"encoding": {"y": {"field": "i", "type": "quantitative", "scale": {"domain": [0, 100], "range": [126, 81], "nice": false, "zero": false}, "axis": null}},
   "layer": [
    {"data": {"name": "aTr"}, "transform": [{"filter": "datum.row == 4"}], "mark": {"type": "line", "color": "#000", "strokeWidth": 1.3}},
    {"data": {"name": "aLab"}, "transform": [{"filter": "datum.row == 4"}], "mark": {"type": "text", "align": "right", "baseline": "alphabetic", "fontSize": 15.5, "color": "#000"}, "encoding": {"text": {"field": "label"}}}
   ]},
  {"encoding": {"y": {"field": "i", "type": "quantitative", "scale": {"domain": [0, 100], "range": [151, 106], "nice": false, "zero": false}, "axis": null}},
   "layer": [
    {"data": {"name": "aTr"}, "transform": [{"filter": "datum.row == 5"}], "mark": {"type": "line", "color": "#000", "strokeWidth": 1.3}},
    {"data": {"name": "aLab"}, "transform": [{"filter": "datum.row == 5"}], "mark": {"type": "text", "align": "right", "baseline": "alphabetic", "fontSize": 15.5, "color": "#000"}, "encoding": {"text": {"field": "label"}}}
   ]},
  {"encoding": {"y": {"field": "i", "type": "quantitative", "scale": {"domain": [0, 100], "range": [171, 126], "nice": false, "zero": false}, "axis": null}},
   "layer": [
    {"data": {"name": "aTr"}, "transform": [{"filter": "datum.row == 6"}], "mark": {"type": "line", "color": "#000", "strokeWidth": 1.3}},
    {"data": {"name": "aLab"}, "transform": [{"filter": "datum.row == 6"}], "mark": {"type": "text", "align": "right", "baseline": "alphabetic", "fontSize": 15.5, "color": "#000"}, "encoding": {"text": {"field": "label"}}}
   ]},
  {"encoding": {"y": {"field": "i", "type": "quantitative", "scale": {"domain": [0, 100], "range": [191, 146], "nice": false, "zero": false}, "axis": null}},
   "layer": [
    {"data": {"name": "aTr"}, "transform": [{"filter": "datum.row == 7"}], "mark": {"type": "line", "color": "#000", "strokeWidth": 1.3}},
    {"data": {"name": "aLab"}, "transform": [{"filter": "datum.row == 7"}], "mark": {"type": "text", "align": "right", "baseline": "alphabetic", "fontSize": 15.5, "color": "#000"}, "encoding": {"text": {"field": "label"}}}
   ]},
  {"encoding": {"y": {"field": "i", "type": "quantitative", "scale": {"domain": [0, 100], "range": [264, 219], "nice": false, "zero": false}, "axis": null}},
   "layer": [
    {"data": {"name": "aBar"}, "mark": {"type": "line", "color": "#000", "strokeWidth": 1.2}, "encoding": {"order": {"field": "k"}}},
    {"data": {"name": "aLab"}, "transform": [{"filter": "datum.row == 8"}], "mark": {"type": "text", "align": "right", "baseline": "alphabetic", "fontSize": 15.5, "color": "#000"}, "encoding": {"text": {"field": "label"}}},
    {"data": {"values": [{"t": -25, "i": -44.4, "label": "100msec"}]}, "mark": {"type": "text", "align": "left", "baseline": "alphabetic", "fontSize": 15.5, "color": "#000"}, "encoding": {"text": {"field": "label"}}}
   ]}
 ],
 "resolve": {"scale": {"y": "independent"}}
},
{"width": 313, "height": 290,
 "encoding": {"x": {"field": "t", "type": "quantitative", "scale": {"domain": [-13.14, 316], "nice": false, "zero": false}, "axis": null}},
 "layer": [
  {"encoding": {"y": {"field": "i", "type": "quantitative", "scale": {"domain": [0, 100], "range": [58, 13], "nice": false, "zero": false}, "axis": null}},
   "layer": [
    {"data": {"name": "bGray"}, "transform": [{"filter": "datum.row == 0"}], "mark": {"type": "line", "color": "#999", "strokeWidth": 1}, "encoding": {"detail": {"field": "seg"}}},
    {"data": {"name": "bDash"}, "transform": [{"filter": "datum.row == 0"}], "mark": {"type": "line", "color": "#333", "strokeWidth": 1, "strokeDash": [4, 3]}, "encoding": {"detail": {"field": "seg"}}},
    {"data": {"name": "bTr"}, "transform": [{"filter": "datum.row == 0"}], "mark": {"type": "line", "color": "#000", "strokeWidth": 1.2}, "encoding": {"detail": {"field": "seg"}}},
    {"data": {"name": "bTxtL"}, "transform": [{"filter": "datum.row == 0"}], "mark": {"type": "text", "align": "left", "baseline": "alphabetic", "fontSize": 15.5, "color": "#000"}, "encoding": {"text": {"field": "label"}}},
    {"data": {"name": "bTxtC"}, "transform": [{"filter": "datum.row == 0"}], "mark": {"type": "text", "align": "center", "baseline": "alphabetic", "fontSize": 15.5, "color": "#000"}, "encoding": {"text": {"field": "label"}}},
    {"data": {"values": [{"t": -42.6, "i": 135.6, "label": "B"}]}, "mark": {"type": "text", "align": "left", "baseline": "alphabetic", "fontSize": 40, "color": "#000"}, "encoding": {"text": {"field": "label"}}}
   ]},
  {"encoding": {"y": {"field": "i", "type": "quantitative", "scale": {"domain": [0, 100], "range": [184, 139], "nice": false, "zero": false}, "axis": null}},
   "layer": [
    {"data": {"name": "bDash"}, "transform": [{"filter": "datum.row == 1"}], "mark": {"type": "line", "color": "#333", "strokeWidth": 1, "strokeDash": [4, 3]}, "encoding": {"detail": {"field": "seg"}}},
    {"data": {"name": "bTr"}, "transform": [{"filter": "datum.row == 1"}], "mark": {"type": "line", "color": "#000", "strokeWidth": 1.2}, "encoding": {"detail": {"field": "seg"}}},
    {"data": {"name": "bTxtL"}, "transform": [{"filter": "datum.row == 1"}], "mark": {"type": "text", "align": "left", "baseline": "alphabetic", "fontSize": 15.5, "color": "#000"}, "encoding": {"text": {"field": "label"}}},
    {"data": {"name": "bTxtC"}, "transform": [{"filter": "datum.row == 1"}], "mark": {"type": "text", "align": "center", "baseline": "alphabetic", "fontSize": 15.5, "color": "#000"}, "encoding": {"text": {"field": "label"}}}
   ]},
  {"encoding": {"y": {"field": "i", "type": "quantitative", "scale": {"domain": [0, 100], "range": [266, 221], "nice": false, "zero": false}, "axis": null}},
   "layer": [
    {"data": {"name": "bBar"}, "mark": {"type": "line", "color": "#000", "strokeWidth": 1.2}, "encoding": {"order": {"field": "k"}}},
    {"data": {"name": "bTxtL"}, "transform": [{"filter": "datum.row == 2"}], "mark": {"type": "text", "align": "left", "baseline": "alphabetic", "fontSize": 15.5, "color": "#000"}, "encoding": {"text": {"field": "label"}}},
    {"data": {"name": "bTxtR"}, "mark": {"type": "text", "align": "right", "baseline": "alphabetic", "fontSize": 15.5, "color": "#000"}, "encoding": {"text": {"field": "label"}}}
   ]}
 ],
 "resolve": {"scale": {"y": "independent"}}
},
{"width": 291, "height": 219,
 "encoding": {
  "x": {"field": "V", "type": "quantitative", "scale": {"domain": [-150, 150], "nice": false, "zero": false},
        "axis": {"orient": "bottom", "offset": -48.67, "values": [-150,-135,-120,-105,-90,-75,-60,-45,-30,-15,0,15,30,45,60,75,90,105,120,135,150], "labelExpr": "abs(datum.value) == 150 ? toString(datum.value) : ''", "labelFlush": false, "labelOverlap": false, "tickSize": 2, "labelPadding": 2, "labelFontSize": 12.5, "title": "Voltage (mV)", "titleFontSize": 16, "titleFontWeight": "normal", "titleAlign": "right", "titleAnchor": "end", "titleX": 302, "titleY": 30, "titleBaseline": "alphabetic"}},
  "y": {"field": "I", "type": "quantitative", "scale": {"domain": [-400, 1400], "nice": false, "zero": false},
        "axis": {"orient": "left", "offset": -145.5, "values": [-400,-200,0,200,400,600,800,1000,1200,1400], "labelExpr": "toString(datum.value)", "labelFlush": false, "labelOverlap": false, "tickSize": 2, "labelPadding": 6, "labelFontSize": 12, "domainDash": [1, 2], "domainColor": "#444", "title": "Current (pA)", "titleFontSize": 16, "titleFontWeight": "normal", "titleAngle": -90, "titleAlign": "center", "titleBaseline": "alphabetic", "titleX": -38, "titleY": 41}}
 },
 "layer": [
  {"data": {"name": "s2"}, "mark": {"type": "line", "color": "#000", "strokeWidth": 1.25}, "encoding": {"detail": {"field": "s"}}},
  {"data": {"values": [{"V": 140.7, "I": 1138, "label": "open"}, {"V": 139.7, "I": 246, "label": "closed"}]}, "mark": {"type": "text", "align": "left", "baseline": "middle", "fontSize": 9, "color": "#000"}, "encoding": {"text": {"field": "label"}}},
  {"data": {"values": [{"V": -9.8, "I": 1561, "label": "S2 Cells"}]}, "mark": {"type": "text", "align": "center", "baseline": "alphabetic", "fontSize": 25, "color": "#000"}, "encoding": {"text": {"field": "label"}}},
  {"data": {"values": [{"V": -202.6, "I": 1636, "label": "C"}]}, "mark": {"type": "text", "align": "left", "baseline": "alphabetic", "fontSize": 40, "color": "#000"}, "encoding": {"text": {"field": "label"}}}
 ]
},
{"width": 295, "height": 219,
 "encoding": {
  "x": {"field": "V", "type": "quantitative", "scale": {"domain": [-100, 100], "nice": false, "zero": false},
        "axis": {"orient": "bottom", "offset": -48.67, "values": [-100,-90,-80,-70,-60,-50,-40,-30,-20,-10,0,10,20,30,40,50,60,70,80,90,100], "labelExpr": "abs(datum.value) == 100 ? toString(datum.value) : ''", "labelFlush": false, "labelOverlap": false, "tickSize": 2, "labelPadding": 2, "labelFontSize": 12.5, "title": "Voltage (mV)", "titleFontSize": 16, "titleFontWeight": "normal", "titleAlign": "right", "titleAnchor": "end", "titleX": 303, "titleY": 31, "titleBaseline": "alphabetic"}},
  "y": {"field": "I", "type": "quantitative", "scale": {"domain": [-400, 1400], "nice": false, "zero": false},
        "axis": {"orient": "left", "offset": -147.5, "values": [-400,-200,0,200,400,600,800,1000,1200,1400], "labelExpr": "toString(datum.value)", "labelFlush": false, "labelOverlap": false, "tickSize": 2, "labelPadding": 7, "labelFontSize": 12, "title": "Current (pA)", "titleFontSize": 16, "titleFontWeight": "normal", "titleAngle": -90, "titleAlign": "center", "titleBaseline": "alphabetic", "titleX": -40, "titleY": 41}}
 },
 "layer": [
  {"data": {"name": "wt"}, "mark": {"type": "line", "color": "#000", "strokeWidth": 1.4}, "encoding": {"detail": {"field": "s"}}},
  {"data": {"name": "wt"}, "transform": [{"filter": "datum.s == 'open'"}], "mark": {"type": "point", "shape": "circle", "filled": true, "fill": "white", "stroke": "#000", "strokeWidth": 1, "size": 20, "opacity": 1}},
  {"data": {"name": "wt"}, "transform": [{"filter": "datum.s == 'closed'"}], "mark": {"type": "point", "shape": "circle", "filled": true, "color": "#000", "size": 18, "opacity": 1}},
  {"data": {"values": [{"V": 83, "I": 901, "label": "open"}, {"V": 83, "I": 131, "label": "closed"}]}, "mark": {"type": "text", "align": "left", "baseline": "middle", "fontSize": 9, "color": "#000"}, "encoding": {"text": {"field": "label"}}},
  {"data": {"values": [{"V": -52.5, "I": 1553, "label": "WT"}]}, "mark": {"type": "text", "align": "left", "baseline": "alphabetic", "fontSize": 25, "color": "#000"}, "encoding": {"text": {"field": "label"}}},
  {"data": {"values": [{"V": -21.4, "I": 1553, "label": "Drosophila"}]}, "mark": {"type": "text", "align": "left", "baseline": "alphabetic", "fontSize": 25, "fontStyle": "italic", "color": "#000"}, "encoding": {"text": {"field": "label"}}}
 ]
}
]
}
